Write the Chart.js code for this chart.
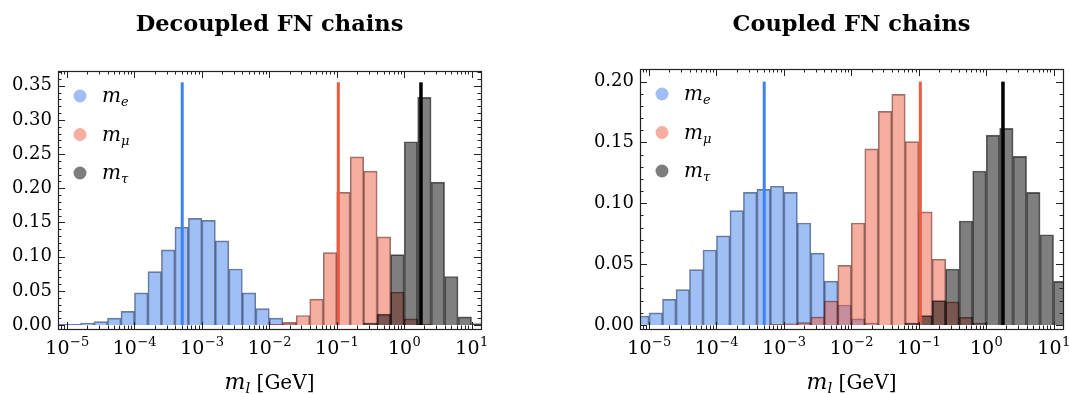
<!DOCTYPE html>
<html lang="en">
  <head>
    <meta charset="UTF-8" />
    <title>FN chains mass histograms</title>
    <script src="https://cdn.jsdelivr.net/npm/chart.js"></script>
    <style>
      body { margin: 0; background: #fff; }
      .wrap { position: absolute; top: 0; height: 394px; }
      #w1 { left: 0; width: 535px; }
      #w2 { left: 535px; width: 534px; }
    </style>
  </head>
  <body>
    <div class="wrap" id="w1"><canvas id="c1" width="535" height="394"></canvas></div>
    <div class="wrap" id="w2"><canvas id="c2" width="534" height="394"></canvas></div>
    <script>
      // lower bin edges, log10(m / GeV)
      const bins = [-5.2, -5.0, -4.8, -4.6, -4.4, -4.2, -4.0, -3.8, -3.6, -3.4, -3.2, -3.0, -2.8, -2.6, -2.4, -2.2,
                    -2.0, -1.8, -1.6, -1.4, -1.2, -1.0, -0.8, -0.6, -0.4, -0.2, 0.0, 0.2, 0.4, 0.6, 0.8, 1.0];

      // decoupled FN chains
      const decE   = [0.001, 0.001, 0.003, 0.005, 0.010, 0.020, 0.047, 0.078, 0.110, 0.143, 0.156, 0.153, 0.123, 0.082, 0.047, 0.024,
                      0.010, 0.002, 0, 0, 0, 0, 0, 0, 0, 0, 0, 0, 0, 0, 0, 0];
      const decMu  = [0, 0, 0, 0, 0, 0, 0, 0, 0, 0, 0, 0, 0, 0, 0, 0,
                      0.001, 0.004, 0.014, 0.038, 0.106, 0.194, 0.246, 0.225, 0.129, 0.048, 0.009, 0.001, 0, 0, 0, 0];
      const decTau = [0, 0, 0, 0, 0, 0, 0, 0, 0, 0, 0, 0, 0, 0, 0, 0,
                      0, 0, 0, 0, 0, 0, 0, 0.003, 0.016, 0.103, 0.268, 0.333, 0.209, 0.071, 0.012, 0.002];

      // coupled FN chains
      const cpdE   = [0.0074, 0.0099, 0.021, 0.029, 0.0455, 0.0616, 0.0732, 0.094, 0.109, 0.1115, 0.114, 0.109, 0.0838, 0.059, 0.036, 0.0164,
                      0.005, 0.0016, 0, 0, 0, 0, 0, 0, 0, 0, 0, 0, 0, 0, 0, 0];
      const cpdMu  = [0, 0, 0, 0, 0, 0, 0, 0, 0, 0, 0.0005, 0.001, 0.002, 0.0066, 0.0197, 0.049,
                      0.0838, 0.1447, 0.1756, 0.1896, 0.1507, 0.093, 0.054, 0.019, 0.0063, 0.0016, 0, 0, 0, 0, 0, 0];
      const cpdTau = [0, 0, 0, 0, 0, 0, 0, 0, 0, 0, 0, 0, 0, 0, 0, 0,
                      0, 0, 0, 0, 0.0016, 0.0077, 0.020, 0.046, 0.0855, 0.1266, 0.156, 0.1616, 0.1386, 0.109, 0.0742, 0.0359];

      // physical lepton masses (GeV) shown as vertical lines
      const massE = 0.000511, massMu = 0.10566, massTau = 1.777;

      const xTicks = [-5, -4, -3, -2, -1, 0, 1];
      const decYTicks = [0, 0.05, 0.10, 0.15, 0.20, 0.25, 0.30, 0.35];
      const cpdYTicks = [0, 0.05, 0.10, 0.15, 0.20];

      const serif = "'DejaVu Serif', serif";

      const toPts = vals => bins.map((b, i) => ({ x: b + 0.1, y: vals[i] })).filter(p => p.y > 0);
      const vline = (m, top) => [{ x: Math.log10(m), y: 0 }, { x: Math.log10(m), y: top }];

      // frame, inward ticks, 10^n labels, legend, titles
      const decor = {
        id: 'decor',
        afterDraw(chart) {
          const { ctx, chartArea: a, scales: { x, y } } = chart;
          const o = chart.options.plugins.decor;
          ctx.save();
          ctx.strokeStyle = '#222';
          ctx.lineWidth = 1;
          ctx.beginPath();
          const tickX = (v, len) => {
            const px = Math.round(x.getPixelForValue(v)) + 0.5;
            ctx.moveTo(px, a.bottom); ctx.lineTo(px, a.bottom - len);
            ctx.moveTo(px, a.top); ctx.lineTo(px, a.top + len);
          };
          const tickY = (v, len) => {
            const py = Math.round(y.getPixelForValue(v)) + 0.5;
            ctx.moveTo(a.left, py); ctx.lineTo(a.left + len, py);
            ctx.moveTo(a.right, py); ctx.lineTo(a.right - len, py);
          };
          for (let d = -6; d <= 1; d++) {
            for (let k = 1; k <= 9; k++) {
              const v = d + Math.log10(k);
              if (v > x.min && v < x.max) tickX(v, k === 1 ? 7 : 3.5);
            }
          }
          for (let i = 0; i * 0.01 < y.max; i++) {
            tickY(i * 0.01, i % 5 === 0 ? 7 : 3.5);
          }
          ctx.stroke();
          ctx.lineWidth = 1.2;
          ctx.strokeRect(Math.round(a.left) + 0.5, Math.round(a.top) + 0.5, Math.round(a.right - a.left), Math.round(a.bottom - a.top));

          ctx.fillStyle = '#000';
          ctx.textBaseline = 'alphabetic';

          // x tick labels as 10 with raised exponent
          ctx.textAlign = 'left';
          x.ticks.forEach(t => {
            const exp = String(t.value).replace('-', '\u2212');
            ctx.font = '19px ' + serif;
            const w1 = ctx.measureText('10').width;
            ctx.font = '13px ' + serif;
            const w2 = ctx.measureText(exp).width;
            const left = x.getPixelForValue(t.value) - (w1 + w2) / 2;
            ctx.font = '19px ' + serif;
            ctx.fillText('10', left, 354);
            ctx.font = '13px ' + serif;
            ctx.fillText(exp, left + w1 + 0.5, 346);
          });

          // title
          const cx = (a.left + a.right) / 2;
          ctx.textAlign = 'center';
          ctx.font = 'bold 22.5px ' + serif;
          ctx.fillText(o.title, cx, 31);

          // axis label  m_l [GeV]
          ctx.textAlign = 'left';
          const parts = [
            { t: 'm', f: 'italic 22px ' + serif, dy: 0 },
            { t: 'l', f: 'italic 15px ' + serif, dy: 4 },
            { t: ' [GeV]', f: '20px ' + serif, dy: 0 }
          ];
          let w = 0;
          parts.forEach(p => { ctx.font = p.f; w += ctx.measureText(p.t).width; });
          let px = cx - w / 2;
          parts.forEach(p => { ctx.font = p.f; ctx.fillText(p.t, px, 389 + p.dy); px += ctx.measureText(p.t).width; });

          // legend
          chart.data.datasets.filter(ds => ds.sub).forEach((ds, i) => {
            const ly = a.top + 25 + i * 38.5;
            ctx.fillStyle = ds.dot;
            ctx.beginPath();
            ctx.arc(a.left + 22, ly, 6.5, 0, Math.PI * 2);
            ctx.fill();
            ctx.fillStyle = '#000';
            ctx.font = 'italic 20px ' + serif;
            ctx.fillText('m', a.left + 44, ly + 6);
            const mw = ctx.measureText('m').width;
            ctx.font = 'italic 13px ' + serif;
            ctx.fillText(ds.sub, a.left + 44 + mw, ly + 10);
          });
          ctx.restore();
        }
      };

      function makeChart(id, title, e, mu, tau, lineTop, yMin, yMax, yTicks, pad) {
        const bar = (label, sub, vals, fill, edge, dot, order) => ({
          type: 'bar', label, sub, dot, order,
          data: toPts(vals),
          backgroundColor: fill,
          borderColor: edge,
          borderWidth: 1,
          barPercentage: 1,
          categoryPercentage: 1,
          grouped: false
        });
        const line = (m, color, width) => ({
          type: 'line', data: vline(m, lineTop), borderColor: color, borderWidth: width,
          pointRadius: 0, order: 0
        });
        return new Chart(document.getElementById(id), {
          type: 'bar',
          data: {
            datasets: [
              bar('m_e', 'e', e, 'rgba(64,128,235,0.5)', 'rgba(20,35,70,0.6)', 'rgb(158,190,245)', 3),
              bar('m_mu', 'μ', mu, 'rgba(237,94,68,0.5)', 'rgba(70,25,20,0.6)', 'rgb(246,174,160)', 2),
              bar('m_tau', 'τ', tau, 'rgba(0,0,0,0.5)', 'rgba(0,0,0,0.6)', 'rgb(125,125,125)', 1),
              line(massE, 'rgb(60,130,240)', 3),
              line(massMu, 'rgb(240,90,60)', 3),
              line(massTau, '#000', 3.5)
            ]
          },
          options: {
            responsive: false,
            animation: false,
            layout: { padding: pad },
            plugins: {
              legend: { display: false },
              tooltip: { enabled: false },
              decor: { title }
            },
            scales: {
              x: {
                type: 'linear', offset: false, min: -5.134, max: 1.14,
                afterBuildTicks: s => { s.ticks = xTicks.map(v => ({ value: v })); },
                afterFit: s => { s.height = 65; },
                grid: { display: false, drawTicks: false },
                border: { display: false },
                ticks: { display: false }
              },
              y: {
                min: yMin, max: yMax,
                afterBuildTicks: s => { s.ticks = yTicks.map(v => ({ value: v })); },
                afterFit: s => { s.width = 58; },
                grid: { display: false, drawTicks: false },
                border: { display: false },
                ticks: { callback: v => v.toFixed(2), color: '#000', padding: 6, font: { family: serif, size: 18 } }
              }
            }
          },
          plugins: [decor]
        });
      }

      makeChart('c1', 'Decoupled FN chains', decE, decMu, decTau, 0.355, -0.0058, 0.3715, decYTicks,
                { left: 0, right: 54, top: 71, bottom: 0 });
      makeChart('c2', 'Coupled FN chains', cpdE, cpdMu, cpdTau, 0.2, -0.0033, 0.2104, cpdYTicks,
                { left: 47, right: 6, top: 69, bottom: 0 });
    </script>
  </body>
</html>
